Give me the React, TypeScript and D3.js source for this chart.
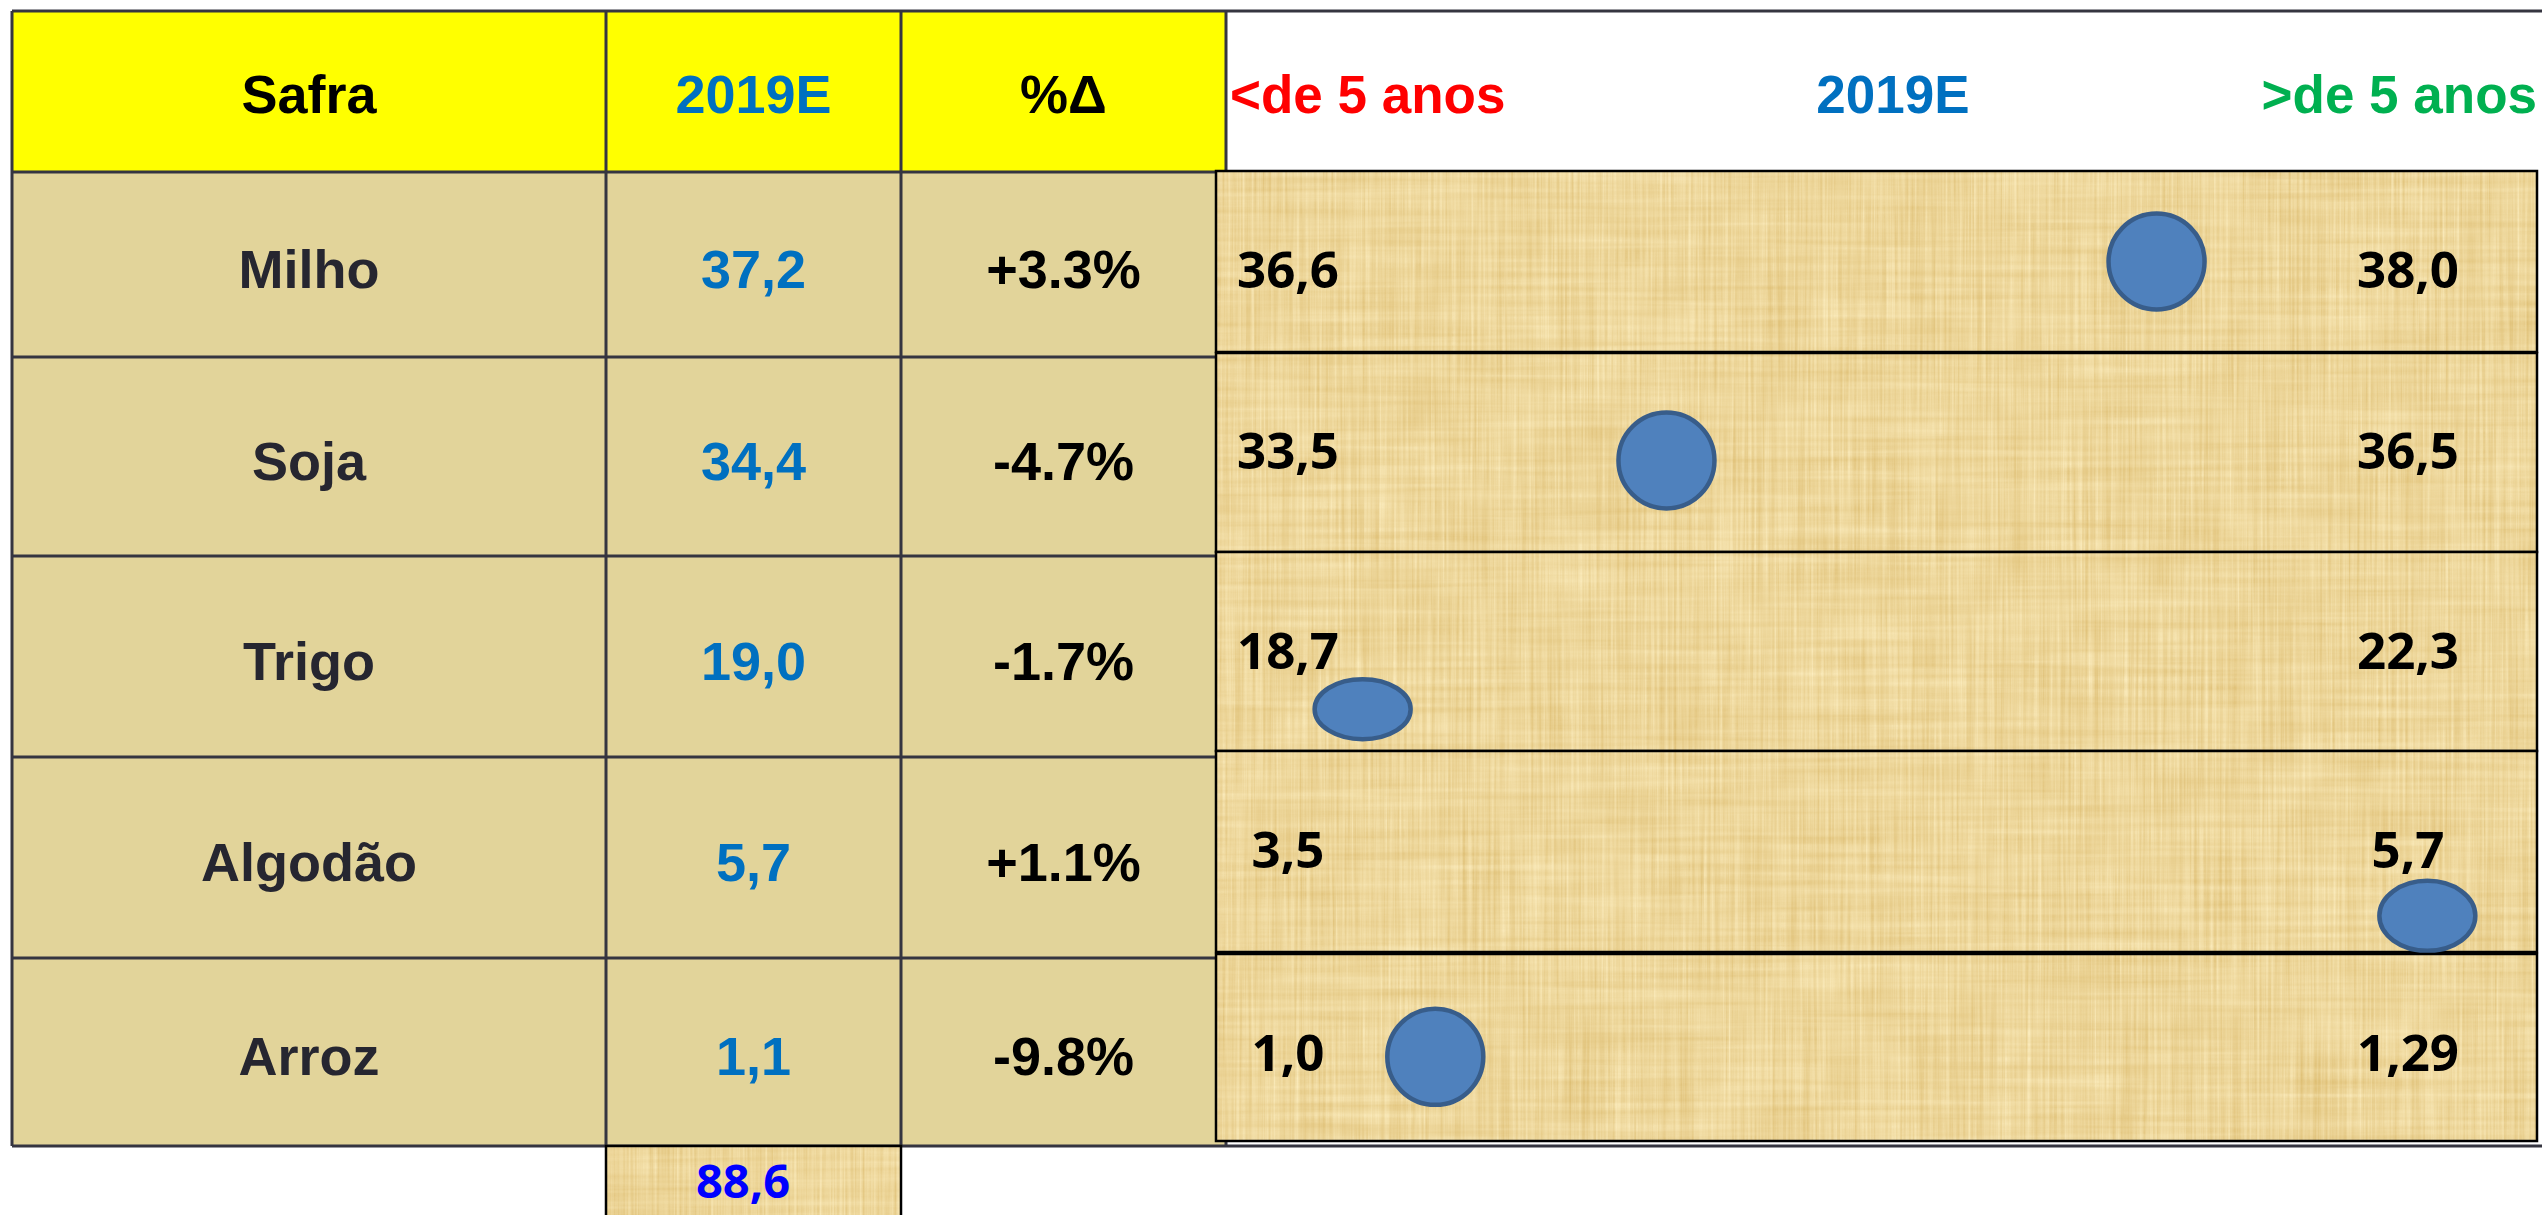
import React from "react";
import * as d3 from "d3";

// ---------- data ----------
const crops = ["Milho", "Soja", "Trigo", "Algodão", "Arroz"];
const estimate2019 = [37.2, 34.4, 19.0, 5.7, 1.1];
const pctChange = [3.3, -4.7, -1.7, 1.1, -9.8];
const fiveYearLow = [36.6, 33.5, 18.7, 3.5, 1.0];
const fiveYearHigh = [38.0, 36.5, 22.3, 5.7, 1.29];
// where the 2019E marker sits across each range band (0 = low end, 1 = high end), as drawn
const markerInRange = [0.712, 0.341, 0.111, 0.917, 0.166];
const total2019 = 88.6;
const tableHeaders = ["Safra", "2019E", "%Δ"];
const rangeHeaders = ["<de 5 anos", "2019E", ">de 5 anos"];

// ---------- layout / style ----------
const W = 2542;
const H = 1215;
const colEdges = [12, 606, 901, 1226];
const rowEdges = [11, 172, 357, 556, 757, 958, 1146];
const bandX0 = 1216;
const bandX1 = 2537;
const bandTops = [171, 353, 552, 751, 954];
const bandBottoms = [352, 552, 751, 952, 1141];
const markerYFrac = [0.5, 0.54, 0.79, 0.82, 0.55];
const markerRx = 50;
const markerRy = [50, 50, 32, 37, 50];
const bandLabelDy = [26, 16, 17, 16, 23];
const lowLabelX = 1288;
const highLabelX = 2408;

const ARIAL = "'Liberation Sans', Arial, sans-serif";
const CALI = "'Open Sans', 'Noto Sans', sans-serif";
const LINE = "#353540";
const CELL = "#E2D49A";
const BLUE = "#0070C0";

const fmtComma = (v: number) => {
  const two = Math.round(v * 100) % 10 !== 0;
  return v.toFixed(two ? 2 : 1).replace(".", ",");
};
const fmtPct = (v: number) => (v >= 0 ? "+" : "-") + Math.abs(v).toFixed(1) + "%";

export default function App() {
  const x = d3.scaleLinear().domain([0, 1]).range([bandX0, bandX1]);
  const rowMid = (i: number) => (rowEdges[i] + rowEdges[i + 1]) / 2;
  const colMid = (j: number) => (colEdges[j] + colEdges[j + 1]) / 2;
  const leftCols = [
    (i: number) => ({ t: crops[i], c: "#262630" }),
    (i: number) => ({ t: fmtComma(estimate2019[i]), c: BLUE }),
    (i: number) => ({ t: fmtPct(pctChange[i]), c: "#000" }),
  ];
  const rangeHeaderColors = ["#FF0000", BLUE, "#00B050"];
  const rangeHeaderX = [1230, 1893, 2537];
  const rangeHeaderAnchor = ["start", "middle", "end"];

  return (
    <svg
      width={W}
      height={H}
      style={{ position: "absolute", left: 0, top: 0, display: "block", background: "#fff" }}
    >
      <defs>
        <filter id="papyrus" x="0" y="0" width="1" height="1" colorInterpolationFilters="sRGB">
          <feTurbulence type="fractalNoise" baseFrequency="0.35 0.005" numOctaves="3" seed="4" result="v" />
          <feTurbulence type="fractalNoise" baseFrequency="0.004 0.14" numOctaves="3" seed="9" result="h" />
          <feTurbulence type="fractalNoise" baseFrequency="0.02 0.02" numOctaves="2" seed="2" result="b" />
          <feComposite in="v" in2="h" operator="arithmetic" k2="0.5" k3="0.3" result="vh" />
          <feComposite in="vh" in2="b" operator="arithmetic" k2="1" k3="0.2" result="n" />
          <feColorMatrix
            in="n"
            type="matrix"
            values="0.18 0 0 0 0.84  0.28 0 0 0 0.70  0.45 0 0 0 0.38  0 0 0 0 1"
          />
        </filter>
      </defs>

      {/* header row */}
      <rect x={colEdges[0]} y={rowEdges[0]} width={colEdges[3] - colEdges[0]} height={rowEdges[1] - rowEdges[0]} fill="#FFFF00" />
      {/* body cells */}
      <rect x={colEdges[0]} y={rowEdges[1]} width={colEdges[3] - colEdges[0]} height={rowEdges[6] - rowEdges[1]} fill={CELL} />

      {/* grid lines */}
      <line x1={colEdges[0]} x2={W} y1={rowEdges[0]} y2={rowEdges[0]} stroke={LINE} strokeWidth={3} />
      {rowEdges.slice(1).map((y, i) => (
        <line key={"h" + i} x1={colEdges[0]} x2={i === 5 ? W : colEdges[3]} y1={y} y2={y} stroke={LINE} strokeWidth={3} />
      ))}
      {colEdges.map((cx, j) => (
        <line key={"v" + j} x1={cx} x2={cx} y1={rowEdges[0]} y2={rowEdges[6]} stroke={LINE} strokeWidth={3} />
      ))}

      {/* table headers */}
      {tableHeaders.map((t, j) => (
        <text
          key={"th" + j}
          x={colMid(j)}
          y={rowMid(0) + 21}
          textAnchor="middle"
          fontFamily={ARIAL}
          fontWeight="bold"
          fontSize={54}
          fill={j === 1 ? BLUE : "#000"}
        >
          {t}
        </text>
      ))}

      {/* table body */}
      {crops.map((_, i) =>
        leftCols.map((f, j) => {
          const d = f(i);
          return (
            <text
              key={`c${i}-${j}`}
              x={colMid(j)}
              y={rowMid(i + 1) + 23}
              textAnchor="middle"
              fontFamily={ARIAL}
              fontWeight="bold"
              fontSize={54}
              fill={d.c}
            >
              {d.t}
            </text>
          );
        })
      )}

      {/* range header */}
      {rangeHeaders.map((t, j) => (
        <text
          key={"rh" + j}
          x={rangeHeaderX[j]}
          y={rowMid(0) + 21}
          textAnchor={rangeHeaderAnchor[j] as any}
          fontFamily={ARIAL}
          fontWeight="bold"
          fontSize={53}
          fill={rangeHeaderColors[j]}
        >
          {t}
        </text>
      ))}

      {/* range bands */}
      {crops.map((c, i) => {
        const y0 = bandTops[i];
        const y1 = bandBottoms[i];
        const cy = y0 + (y1 - y0) * markerYFrac[i];
        const mid = (y0 + y1) / 2;
        return (
          <g key={"band" + c}>
            <rect x={bandX0} y={y0} width={bandX1 - bandX0} height={y1 - y0} fill="#EAD39E" filter="url(#papyrus)" />
            <rect x={bandX0} y={y0} width={bandX1 - bandX0} height={y1 - y0} fill="none" stroke="#000" strokeWidth={2.5} />
            <text x={lowLabelX} y={mid + bandLabelDy[i]} textAnchor="middle" fontFamily={CALI} fontWeight={700} fontSize={51} fill="#000">
              {fmtComma(fiveYearLow[i])}
            </text>
            <text x={highLabelX} y={mid + bandLabelDy[i]} textAnchor="middle" fontFamily={CALI} fontWeight={700} fontSize={51} fill="#000">
              {fmtComma(fiveYearHigh[i])}
            </text>
            <ellipse
              cx={x(markerInRange[i])}
              cy={cy}
              rx={markerRx - 2}
              ry={markerRy[i] - 2}
              fill="#4F81BD"
              stroke="#385D8A"
              strokeWidth={4.5}
            />
          </g>
        );
      })}

      {/* total box */}
      <rect x={colEdges[1]} y={rowEdges[6]} width={colEdges[2] - colEdges[1]} height={H - rowEdges[6] + 5} fill="#EAD39E" filter="url(#papyrus)" />
      <rect x={colEdges[1]} y={rowEdges[6]} width={colEdges[2] - colEdges[1]} height={H - rowEdges[6] + 5} fill="none" stroke="#000" strokeWidth={2.5} />
      <text x={743} y={1198} textAnchor="middle" fontFamily={CALI} fontWeight={700} fontSize={47} fill="#0000FF">
        {fmtComma(total2019)}
      </text>
    </svg>
  );
}
